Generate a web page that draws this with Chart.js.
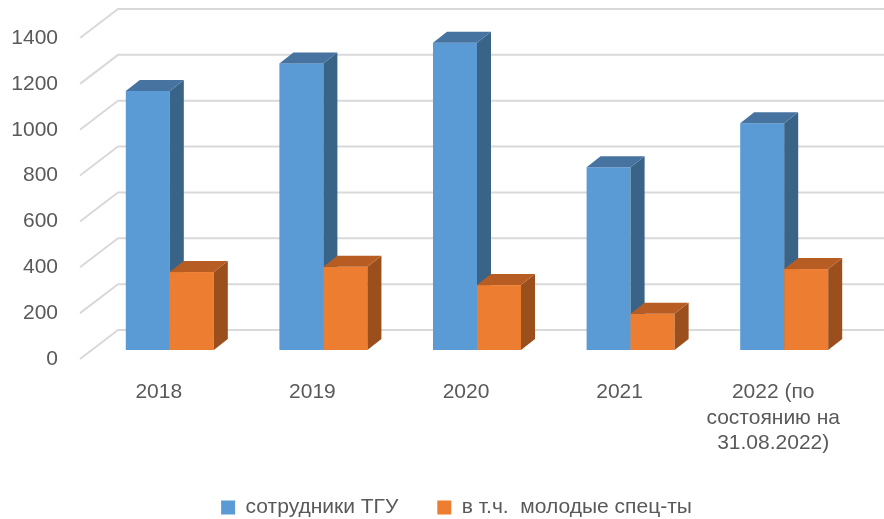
<!DOCTYPE html>
<html lang="ru">
<head>
<meta charset="utf-8">
<script src="https://cdn.jsdelivr.net/npm/chart.js@4"></script>
<style>
  html, body { margin: 0; padding: 0; background: #fff; overflow: hidden; }
  #wrap { width: 884px; height: 519px; overflow: hidden; }
</style>
</head>
<body>
<div id="wrap"><canvas id="myChart" width="884" height="528"></canvas></div>
<script>
const categories = ['2018', '2019', '2020', '2021', ['2022 (по', 'состоянию на', '31.08.2022)']];
const staffValues = [1130, 1250, 1340, 797, 989];
const youngValues = [340, 363, 283, 158, 353];
const seriesNames = ['сотрудники ТГУ', 'в т.ч.  молодые спец-ты'];
const yTicks = { min: 0, max: 1400, step: 200 };

// värit: etupinta, yläpinta, sivupinta
const faceColors = [
  { front: '#5B9BD5', top: '#46739F', side: '#396387' },
  { front: '#ED7D31', top: '#B75D23', side: '#9A4F1D' }
];

const textColor = '#595959';
const fontFamily = '"Liberation Sans", Arial, sans-serif';

// 3D-vaikutelma: takaseinä, palkkien siirto ja syvyys
const wallDepth = { dx: 38, dy: -29 };
const barShift = { dx: 11, dy: -9 };
const barDepth = { dx: 14, dy: -11 };

const bars3d = {
  id: 'bars3d',
  afterLayout(chart) {
    // selite hieman oikealle kuten alkuperäisessä
    chart.legend.left += 63;
  },
  beforeDatasetsDraw(chart) {
    const ctx = chart.ctx;
    const area = chart.chartArea;
    const y = chart.scales.y;

    // takaseinän ruudukko
    ctx.save();
    ctx.strokeStyle = '#D9D9D9';
    ctx.lineWidth = 2;
    y.ticks.forEach(t => {
      const py = y.getPixelForValue(t.value);
      ctx.beginPath();
      ctx.moveTo(area.left - 2, py);
      ctx.lineTo(area.left - 2 + wallDepth.dx, py + wallDepth.dy);
      ctx.lineTo(chart.width, py + wallDepth.dy);
      ctx.stroke();
    });
    ctx.restore();

    // palkit kategorioittain, jotta oranssi peittää sinisen sivun
    const metas = chart.data.datasets.map((d, i) => chart.getDatasetMeta(i));
    for (let i = 0; i < categories.length; i++) {
      metas.forEach((meta, di) => {
        const el = meta.data[i];
        if (!el) return;
        const c = faceColors[di];
        const x0 = el.x - el.width / 2 + barShift.dx;
        const x1 = el.x + el.width / 2 + barShift.dx;
        const top = el.y + barShift.dy;
        const base = el.base + barShift.dy;

        ctx.save();
        ctx.fillStyle = c.front;
        ctx.fillRect(x0, top, x1 - x0, base - top);

        ctx.fillStyle = c.side;
        ctx.beginPath();
        ctx.moveTo(x1, top);
        ctx.lineTo(x1 + barDepth.dx, top + barDepth.dy);
        ctx.lineTo(x1 + barDepth.dx, base + barDepth.dy);
        ctx.lineTo(x1, base);
        ctx.closePath();
        ctx.fill();

        ctx.fillStyle = c.top;
        ctx.beginPath();
        ctx.moveTo(x0, top);
        ctx.lineTo(x0 + barDepth.dx, top + barDepth.dy);
        ctx.lineTo(x1 + barDepth.dx, top + barDepth.dy);
        ctx.lineTo(x1, top);
        ctx.closePath();
        ctx.fill();
        ctx.restore();
      });
    }
    return false;
  }
};

const data = {
  labels: categories,
  datasets: [
    {
      label: seriesNames[0],
      data: staffValues,
      backgroundColor: faceColors[0].front,
      borderWidth: 0
    },
    {
      label: seriesNames[1],
      data: youngValues,
      backgroundColor: faceColors[1].front,
      borderWidth: 0
    }
  ]
};

const config = {
  type: 'bar',
  data: data,
  plugins: [bars3d],
  options: {
    responsive: false,
    animation: false,
    layout: {
      padding: { left: 0, right: 34, top: 38, bottom: 0 }
    },
    datasets: {
      bar: { categoryPercentage: 0.573, barPercentage: 1 }
    },
    scales: {
      x: {
        grid: { display: false, drawTicks: false },
        border: { display: false },
        ticks: {
          color: textColor,
          font: { family: fontFamily, size: 21, lineHeight: 1.2 },
          padding: 21,
          maxRotation: 0,
          autoSkip: false
        },
        afterFit: function(scale) { scale.height = 99; }
      },
      y: {
        min: yTicks.min,
        max: yTicks.max,
        grid: { display: false, drawTicks: false },
        border: { display: false },
        ticks: {
          stepSize: yTicks.step,
          color: textColor,
          font: { family: fontFamily, size: 21 },
          padding: 24,
          callback: function(value) { return String(value); }
        },
        afterFit: function(scale) { scale.width = 82; }
      }
    },
    plugins: {
      legend: {
        position: 'bottom',
        labels: {
          boxWidth: 14,
          boxHeight: 14,
          padding: 39,
          color: textColor,
          font: { family: fontFamily, size: 21 }
        }
      },
      tooltip: { enabled: false }
    }
  }
};

const myChart = new Chart(document.getElementById('myChart'), config);
</script>
</body>
</html>
